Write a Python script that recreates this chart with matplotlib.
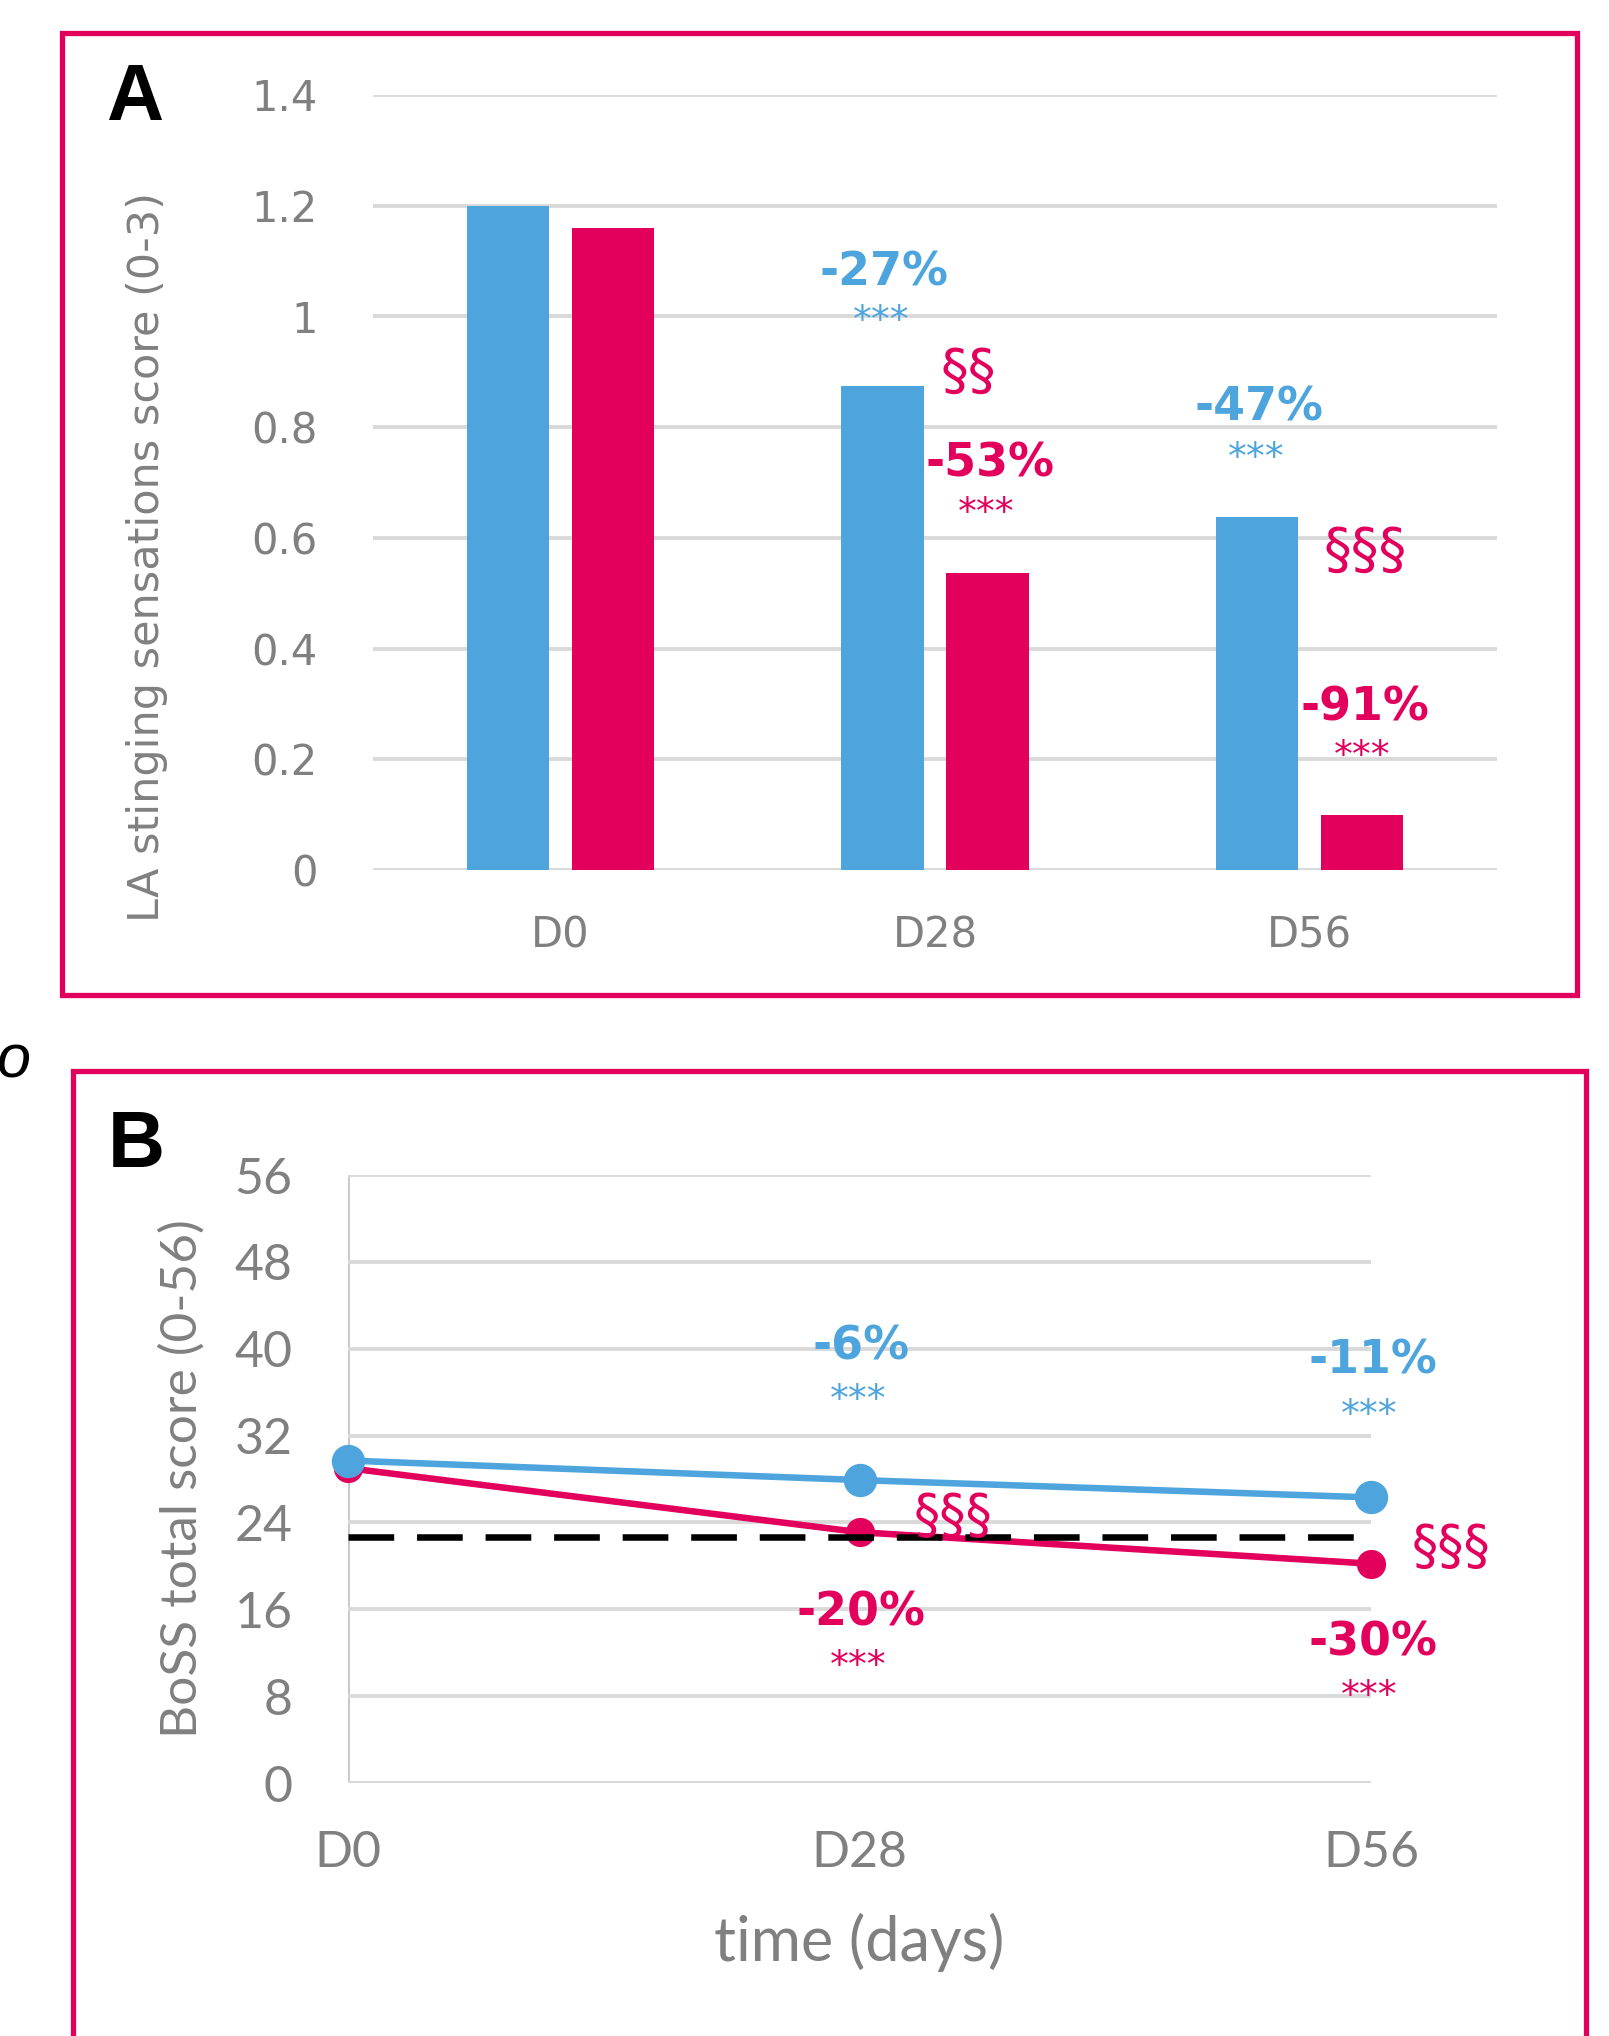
import numpy as np
import matplotlib.pyplot as plt
from matplotlib.patches import Rectangle

# colours
blue = '#4EA5DD'
pink = '#E3005D'
grid = '#D9D9D9'
txt = '#808080'

# panel A data
days_a = ['D0', 'D28', 'D56']
score_blue = [1.20, 0.875, 0.638]
score_pink = [1.16, 0.537, 0.10]

# panel B data
days_b = [0, 28, 56]
days_b_lbl = ['D0', 'D28', 'D56']
boss_blue = [29.7, 27.9, 26.3]
boss_pink = [29.0, 23.1, 20.2]
cutoff = 22.7

W, H = 1609, 2036
fig = plt.figure(figsize=(W / 100, H / 100), dpi=100)

def fx(px):
    return px / W

def fy(py):
    return 1 - py / H

wide = 'DejaVu Sans'
thin = 'Lato'

# frames
fig.patches.append(Rectangle((fx(62), fy(995)), fx(1577 - 62), (995 - 33) / H,
                             transform=fig.transFigure, fill=False, ec=pink, lw=3.8))
fig.patches.append(Rectangle((fx(73), fy(2060)), fx(1586 - 73), (2060 - 1071) / H,
                             transform=fig.transFigure, fill=False, ec=pink, lw=3.8,
                             clip_on=False))
fig.text(fx(106), fy(120), 'A', fontsize=57, fontweight='bold', family='Liberation Sans')
fig.text(fx(108), fy(1167), 'B', fontsize=57, fontweight='bold', family='Liberation Sans')
fig.text(fx(-3), fy(1078), 'o', fontsize=44, style='italic', family='Liberation Sans')

# ---- panel A ----
ax = fig.add_axes([fx(373), fy(870), fx(1497 - 373), (870 - 95) / H])
x = np.arange(len(days_a))
bw = 0.22
ax.bar(x - 0.14, score_blue, bw, color=blue, zorder=3)
ax.bar(x + 0.14, score_pink, bw, color=pink, zorder=3)
ax.set_xlim(-0.5, 2.5)
ax.set_ylim(0, 1.4)
ax.set_yticks(np.arange(0, 1.41, 0.2))
ax.set_yticklabels(['0', '0.2', '0.4', '0.6', '0.8', '1', '1.2', '1.4'])
ax.set_xticks(x)
ax.set_xticklabels(days_a)
for s in ax.spines.values():
    s.set_visible(False)
ax.yaxis.grid(True, color=grid, lw=2.8, zorder=0)
ax.tick_params(length=0, labelsize=30, labelcolor=txt)
ax.tick_params(axis='y', pad=40)
ax.tick_params(axis='x', pad=32)
for lb in ax.get_xticklabels() + ax.get_yticklabels():
    lb.set_family(wide)
fig.text(fx(147), fy(557), 'LA stinging sensations score (0-3)', rotation=90,
         fontsize=31, color=txt, family=wide, ha='center', va='center')

annA = [
    ('-27%', 0.863, 1.078, blue, 33, 'bold'),
    ('***', 0.857, 0.990, blue, 27, 'normal'),
    ('§§', 1.089, 0.898, pink, 40, 'normal'),
    ('-53%', 1.148, 0.733, pink, 33, 'bold'),
    ('***', 1.137, 0.643, pink, 27, 'normal'),
    ('-47%', 1.865, 0.835, blue, 33, 'bold'),
    ('***', 1.857, 0.743, blue, 27, 'normal'),
    ('§§§', 2.148, 0.574, pink, 40, 'normal'),
    ('-91%', 2.148, 0.293, pink, 33, 'bold'),
    ('***', 2.141, 0.204, pink, 27, 'normal'),
]
for t, xx, yy, c, fs, fw in annA:
    ax.text(xx, yy, t, color=c, fontsize=fs, fontweight=fw, family=wide,
            ha='center', va='center', zorder=5)

# ---- panel B ----
bx = fig.add_axes([fx(348), fy(1783), fx(1371 - 348), (1783 - 1175) / H])
bx.set_xlim(0, 56)
bx.set_ylim(0, 56)
bx.set_yticks(np.arange(0, 57, 8))
bx.set_xticks(days_b)
bx.set_xticklabels(days_b_lbl)
for s in bx.spines.values():
    s.set_visible(False)
bx.yaxis.grid(True, color=grid, lw=2.8, zorder=0)
bx.axvline(0, color='#C8C8C8', lw=2.8, zorder=1)
bx.axhline(0, color='#C8C8C8', lw=2.8, zorder=1)
bx.plot(days_b, boss_pink, color=pink, lw=4.7, marker='o', ms=20, zorder=3, clip_on=False)
bx.plot(days_b, boss_blue, color=blue, lw=4.7, marker='o', ms=23, zorder=4, clip_on=False)
bx.plot([0, 55.5], [cutoff, cutoff], color='black', lw=4.7, dashes=(7, 3.5), zorder=5)
bx.tick_params(length=0, labelsize=36, labelcolor=txt)
bx.tick_params(axis='y', pad=40)
bx.tick_params(axis='x', pad=34)
for lb in bx.get_xticklabels() + bx.get_yticklabels():
    lb.set_family(thin)
fig.text(fx(182), fy(1479), 'BoSS total score (0-56)', rotation=90,
         fontsize=37, color=txt, family=thin, ha='center', va='center')
bx.set_xlabel('time (days)', fontsize=44, color=txt, family=thin, labelpad=26)

annB = [
    ('-6%', 28.1, 40.2, blue, 33, 'bold'),
    ('***', 27.9, 35.2, blue, 27, 'normal'),
    ('-11%', 56.1, 38.9, blue, 33, 'bold'),
    ('***', 55.9, 33.8, blue, 27, 'normal'),
    ('§§§', 33.1, 24.5, pink, 38, 'normal'),
    ('§§§', 60.4, 21.6, pink, 38, 'normal'),
    ('-20%', 28.1, 15.7, pink, 33, 'bold'),
    ('***', 27.9, 10.7, pink, 27, 'normal'),
    ('-30%', 56.1, 12.9, pink, 33, 'bold'),
    ('***', 55.9, 7.9, pink, 27, 'normal'),
]
for t, xx, yy, c, fs, fw in annB:
    bx.text(xx, yy, t, color=c, fontsize=fs, fontweight=fw, family=wide,
            ha='center', va='center', zorder=6, clip_on=False)

fig.savefig('out.png', dpi=100)
